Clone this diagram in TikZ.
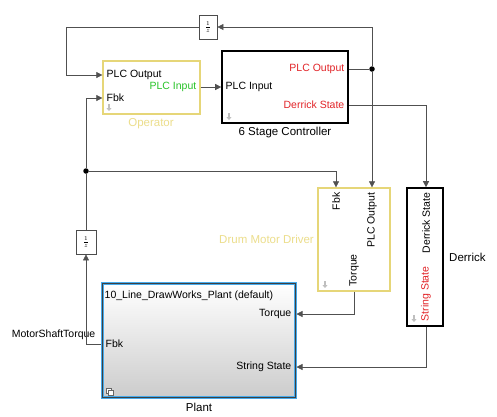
\documentclass[tikz,border=0pt]{standalone}
\usepackage{fontspec}
\setmainfont{Liberation Sans}
\usetikzlibrary{arrows.meta}
\definecolor{opyellow}{RGB}{230,214,120}
\definecolor{labyellow}{RGB}{236,222,140}
\definecolor{sigred}{RGB}{226,36,40}
\definecolor{siggreen}{RGB}{40,196,40}
\definecolor{plantblue}{RGB}{70,170,235}
\definecolor{wire}{RGB}{80,80,80}
\tikzset{
  wirearrow/.style={draw=wire, line width=0.6pt, -{Triangle[length=6pt,width=6pt]}},
  port/.style={font=\fontsize{10.5}{12}\selectfont, inner sep=1.5pt},
  blockname/.style={font=\fontsize{11.5}{13}\selectfont, inner sep=1pt},
  yellowblock/.style={draw=opyellow, line width=1.3pt, fill=white},
  blackblock/.style={draw=black, line width=1.6pt, fill=white},
  delaybox/.style={draw=black!70, line width=0.8pt, fill=white, minimum width=18pt, minimum height=24pt, inner sep=0pt},
  junction/.style={circle, fill=black, inner sep=0pt, minimum size=5.5pt},
  iconarrow/.style={draw=black!25, line width=1.4pt, -{Triangle[length=3pt,width=5pt]}}
}
\begin{document}
\begin{tikzpicture}[x=1pt,y=-1pt]
  \useasboundingbox[fill=white] (0,0) rectangle (497,416);

  % Operator
  \node[yellowblock, minimum width=97pt, minimum height=53pt] (oper) at (151.5,87.5) {};
  \node[port, anchor=west] (operout) at (105,75) {PLC Output};
  \node[port, anchor=west] (operfbk) at (105,98) {Fbk};
  \node[port, anchor=east, text=siggreen] (operin) at (198,87) {PLC Input};
  \node[blockname, text=labyellow] (operlab) at (151,124) {Operator};
  \draw[iconarrow] (109,104) -- (109,111);

  % 6 Stage Controller
  \node[blackblock, minimum width=126pt, minimum height=72pt] (ctrl) at (285,87) {};
  \node[port, anchor=west] (ctrlin) at (224,87) {PLC Input};
  \node[port, anchor=east, text=sigred] (ctrlout) at (346,69) {PLC Output};
  \node[port, anchor=east, text=sigred] (ctrlder) at (346,105) {Derrick State};
  \node[blockname] (ctrllab) at (285,133) {6 Stage Controller};
  \draw[iconarrow] (229,113) -- (229,120);

  % unit delays
  \node[delaybox] (delaytop) at (208,27) {\footnotesize$\frac{1}{z}$};
  \node[delaybox, minimum width=20pt] (delayfbk) at (86,242) {\footnotesize$\frac{1}{z}$};

  % Drum Motor Driver
  \node[yellowblock, minimum width=72pt, minimum height=103pt] (drum) at (354,239.5) {};
  \node[port, rotate=90, anchor=east] (drumfbk) at (336,191) {Fbk};
  \node[port, rotate=90, anchor=east] (drumplc) at (372,191) {PLC Output};
  \node[port, rotate=90, anchor=west] (drumtq) at (354,288) {Torque};
  \node[blockname, text=labyellow, anchor=east] (drumlab) at (315,239) {Drum Motor Driver};
  \draw[iconarrow] (325,281) -- (325,288);

  % Derrick
  \node[blackblock, minimum width=36pt, minimum height=138pt] (derr) at (425,257) {};
  \node[port, rotate=90, anchor=east] (derrin) at (426,191) {Derrick State};
  \node[port, rotate=90, anchor=west, text=sigred] (derrout) at (426,323) {String State};
  \node[blockname, anchor=west] (derrlab) at (448,257) {Derrick};
  \draw[iconarrow] (414,315) -- (414,322);

  % Plant
  \node[draw=plantblue, line width=3pt, top color=white, bottom color=black!20,
        minimum width=193pt, minimum height=114pt] (plant) at (198.5,340) {};
  \draw[black!75, line width=0.7pt] ([shift={(1.5,1.5)}]plant.north west) rectangle ([shift={(-1.5,-1.5)}]plant.south east);
  \node[port, anchor=west] (planttitle) at (103,296) {10\_Line\_DrawWorks\_Plant (default)};
  \node[port, anchor=east] (planttq) at (293,314) {Torque};
  \node[port, anchor=east] (plantss) at (293,367) {String State};
  \node[port, anchor=west] (plantfbk) at (104,344) {Fbk};
  \node[blockname] (plantlab) at (199,407) {Plant};
  \draw[black!60, fill=white, line width=0.5pt] (106,388) rectangle (111,393);
  \draw[black!60, fill=white, line width=0.5pt] (108,390) rectangle (113,395);
  \node[port, anchor=east] (fbksig) at (97,335) {MotorShaftTorque};

  % junctions
  \node[junction] (jplc) at (372,69) {};
  \node[junction] (jfbk) at (86,171) {};

  % connectors
  \draw[draw=wire, line width=0.6pt] (ctrl.east |- jplc) -- (jplc);
  \draw[wirearrow] (jplc) |- (delaytop.east);
  \draw[wirearrow] (jplc) -- (jplc |- drum.north);
  \draw[wirearrow] (delaytop.west) -- (66,27) |- (oper.west |- operout);
  \draw[wirearrow] (oper.east |- ctrlin) -- (ctrl.west |- ctrlin);
  \draw[wirearrow] (ctrl.east |- ctrlder) -| (derrin.east |- derr.north);
  \draw[wirearrow] (plant.west |- plantfbk) -| (delayfbk.south);
  \draw[draw=wire, line width=0.6pt] (delayfbk.north) -- (jfbk);
  \draw[wirearrow] (jfbk) |- (oper.west |- operfbk);
  \draw[wirearrow] (jfbk) -| (drumfbk.east |- drum.north);
  \draw[wirearrow] (drumtq.west |- drum.south) |- (plant.east |- planttq);
  \draw[wirearrow] (derrout.west |- derr.south) |- (plant.east |- plantss);
\end{tikzpicture}
\end{document}
